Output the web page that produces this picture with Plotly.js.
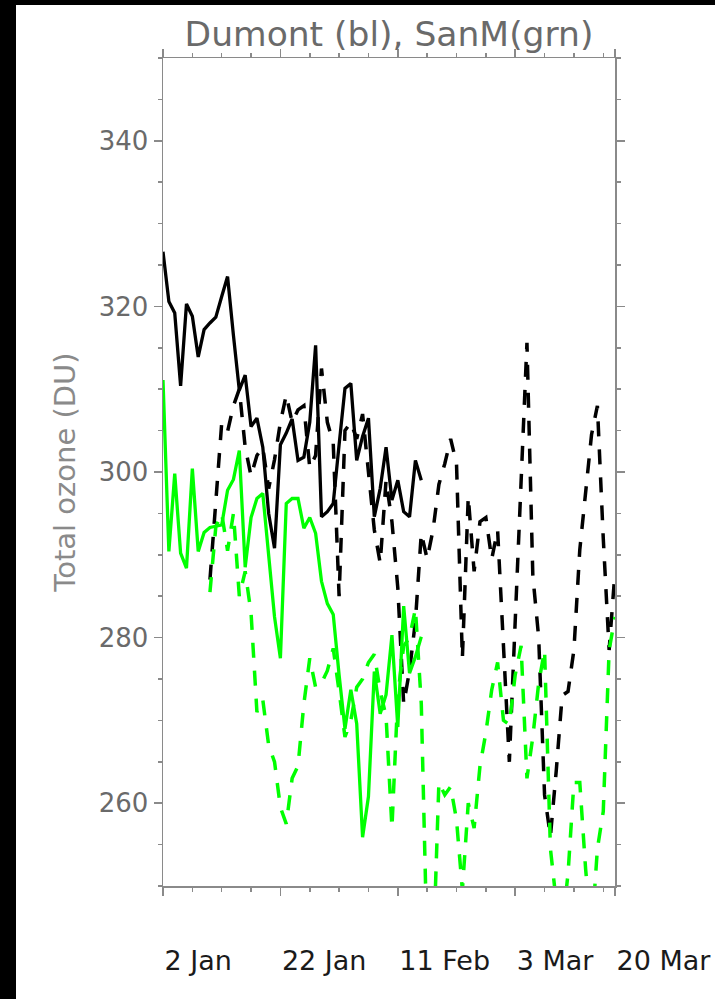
<!DOCTYPE html>
<html>
<head>
<meta charset="utf-8">
<script src="https://cdn.plot.ly/plotly-3.0.1.min.js"></script>
<style>
  html, body { margin: 0; padding: 0; background: #000; width: 715px; height: 999px; overflow: hidden; }
  #chart { position: absolute; left: 16px; top: 5px; width: 699px; height: 994px; background: #fff; }
</style>
</head>
<body>
<div id="chart"></div>
<script>
// Day of year (2 Jan = 2)
const solidDays = [2,3,4,5,6,7,8,9,10,11,12,13,14,15,16,17,18,19,20,21,22,23,24,25,26,27,28,29,30,31,32,33,34,35,36,37,38,39,40,41,42,43,44,45,46];
const dumontSolid = [326.6,320.6,319.2,310.4,320.3,318.8,313.9,317.2,318.0,318.7,321.2,323.6,316.5,309.9,311.7,305.5,306.5,303.0,295.0,290.8,303.3,304.7,306.4,301.4,301.8,306.0,315.3,294.6,295.2,296.2,303.3,310.1,310.7,301.4,304.3,306.5,294.6,298.0,303.0,296.6,299.0,295.2,294.6,301.4,299.0];
const sanmSolid = [311.1,290.4,299.8,290.2,288.4,300.4,290.4,292.7,293.3,293.5,293.6,297.8,299.1,302.6,288.5,294.5,296.8,297.4,290.2,282.5,277.5,296.2,296.8,296.8,293.2,294.5,292.6,286.8,284.1,282.8,275.5,269.0,273.7,269.6,255.9,260.8,275.9,270.8,273.1,280.3,269.2,283.8,275.7,277.7,280.1];

const dashDays = [10,11,12,13,14,15,16,17,18,19,20,21,22,23,24,25,26,27,28,29,30,31,32,33,34,35,36,37,38,39,40,41,42,43,44,45,46,47,48,49,50,51,52,53,54,55,56,57,58,59,60,61,62,63,64,65,66,67,68,69,70,71,72,73,74,75,76,77,78,79];
const dumontDash = [287,297,305.9,304.9,308,310,303,299.5,302,303,
  298,301.5,306,309.3,306,307.5,308,300.5,302,312.5,
  306,303.5,285,305,306,304,307,300,293,289,
  299,294,286,272,276,282,292.6,289.5,293,298.5,
  301,304,301,277.5,297,288,294,294.5,289.5,293,
  279,265,282,299,315.6,287.5,280,261,256,264,
  273,273.5,278.5,290.6,297.5,304.5,308,292,278.5,288];
const sanmDash = [285.5,293.4,295,290.5,295,285,288,283,271,272.5,
  267,265,259.5,257.5,263,264.5,272,277.5,274,274.5,
  276,278.7,273.5,268,270,274,275,277,278,273.5,
  270.5,257,273,279,280,283.5,272,242,241,262.5,
  261,262,258,249.5,260,257,264.5,268.5,273.7,277,
  270,269.5,275.5,279,263,268,274.5,278.5,254.5,248,
  245,251.5,262.5,262.5,252,244,254.5,259,278.5,282.5];

const xTickVals = [2, 22, 42, 62, 79];
const xTickText = ['2 Jan', '22 Jan', '11 Feb', '3 Mar', '20 Mar'];

const BLACK = '#000000';
const GREEN = '#00ff00';
const AXIS = '#8a8a8a';
const DASH = '15px,13px';

const traces = [
  {x: dashDays, y: dumontDash, mode: 'lines', line: {color: BLACK, width: 3.5, dash: DASH}, hoverinfo: 'skip'},
  {x: dashDays, y: sanmDash, mode: 'lines', line: {color: GREEN, width: 3.5, dash: DASH}, hoverinfo: 'skip'},
  {x: solidDays, y: dumontSolid, mode: 'lines', line: {color: BLACK, width: 3.3}, hoverinfo: 'skip'},
  {x: solidDays, y: sanmSolid, mode: 'lines', line: {color: GREEN, width: 3.3}, hoverinfo: 'skip'}
];

const layout = {
  width: 699, height: 994,
  margin: {l: 147, r: 100, t: 53, b: 113, pad: 0},
  paper_bgcolor: '#ffffff', plot_bgcolor: '#ffffff',
  showlegend: false,
  title: {
    text: 'Dumont (bl), SanM(grn)',
    font: {family: 'DejaVu Sans', size: 34.5, color: '#6a6a6a'},
    x: 0.5, xref: 'paper', xanchor: 'center',
    y: 0.971, yref: 'container', yanchor: 'middle'
  },
  xaxis: {
    range: [2, 79], autorange: false,
    tickmode: 'array', tickvals: xTickVals, ticktext: xTickText,
    tickangle: 0,
    ticks: 'outside', ticklen: 8, tickwidth: 1.5, tickcolor: AXIS,
    showline: true, linecolor: AXIS, linewidth: 1.5, mirror: 'allticks',
    showgrid: false, zeroline: false,
    ticklabelposition: 'outside right', ticklabelstandoff: 50,
    ticklabeloverflow: 'allow',
    tickfont: {family: 'DejaVu Sans', size: 27, color: '#1a1a1a'},
    minor: {dtick: 5, tick0: 2, ticks: 'outside', ticklen: 4, tickwidth: 1.5, tickcolor: AXIS, showgrid: false}
  },
  yaxis: {
    range: [250, 350], autorange: false,
    tickmode: 'linear', tick0: 260, dtick: 20,
    ticks: 'outside', ticklen: 8, tickwidth: 1.5, tickcolor: AXIS,
    showline: true, linecolor: AXIS, linewidth: 1.5, mirror: 'allticks',
    showgrid: false, zeroline: false,
    ticklabelstandoff: 0,
    tickfont: {family: 'DejaVu Sans', size: 26, color: '#6a6a6a'},
    minor: {dtick: 5, tick0: 250, ticks: 'outside', ticklen: 4, tickwidth: 1.5, tickcolor: AXIS, showgrid: false},
    title: {text: 'Total ozone (DU)', font: {family: 'DejaVu Sans', size: 29, color: '#8a8a8a'}, standoff: 14}
  }
};

Plotly.newPlot('chart', traces, layout, {displayModeBar: false, staticPlot: true});
</script>
</body>
</html>
